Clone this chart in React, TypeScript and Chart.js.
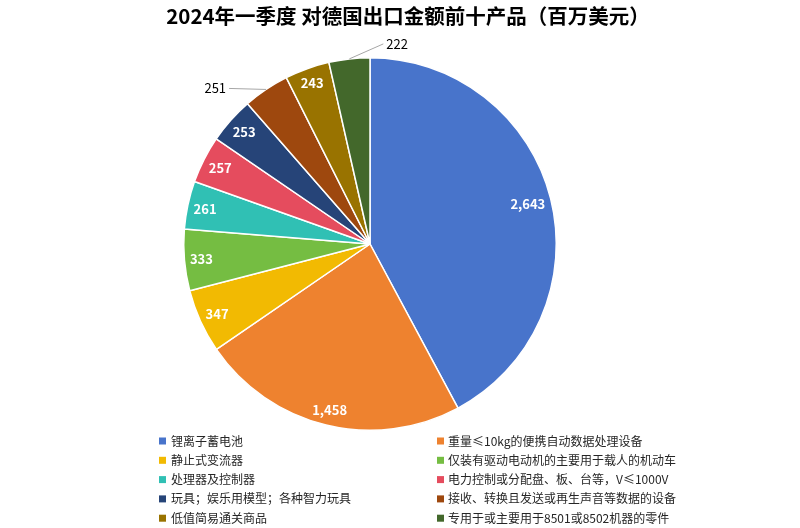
import React, { useEffect, useRef } from "react";
import { Chart, registerables } from "chart.js";

Chart.register(...registerables);

const titleText = "2024年一季度 对德国出口金额前十产品（百万美元）";

const categories = [
  "锂离子蓄电池",
  "重量≤10kg的便携自动数据处理设备",
  "静止式变流器",
  "仅装有驱动电动机的主要用于载人的机动车",
  "处理器及控制器",
  "电力控制或分配盘、板、台等，V≤1000V",
  "玩具；娱乐用模型；各种智力玩具",
  "接收、转换且发送或再生声音等数据的设备",
  "低值简易通关商品",
  "专用于或主要用于8501或8502机器的零件",
];

const values = [2643, 1458, 347, 333, 261, 257, 253, 251, 243, 222];

const colors = [
  "#4874CB",
  "#EE822F",
  "#F2BA02",
  "#75BD42",
  "#30C0B4",
  "#E54C5E",
  "#264478",
  "#9E480E",
  "#997300",
  "#43682B",
];

// labels drawn outside the pie, with leader line offsets (style config)
const outsideLeaders: Record<number, [number, number]> = { 7: [-37, -1], 9: [34, -15] };

const FONT = '"Noto Sans CJK SC", "Noto Sans", sans-serif';

const decorPlugin = {
  id: "decor",
  afterDatasetsDraw(chart: any) {
    const ctx = chart.ctx as CanvasRenderingContext2D;
    const meta = chart.getDatasetMeta(0);
    ctx.save();
    meta.data.forEach((arc: any, i: number) => {
      const { x, y, startAngle, endAngle, outerRadius } = arc.getProps(
        ["x", "y", "startAngle", "endAngle", "outerRadius"],
        true
      );
      const mid = (startAngle + endAngle) / 2;
      const cos = Math.cos(mid);
      const sin = Math.sin(mid);
      const txt = values[i].toLocaleString("en-US");
      const leader = outsideLeaders[i];
      if (leader) {
        const px = x + outerRadius * cos;
        const py = y + outerRadius * sin;
        const ex = px + leader[0];
        const ey = py + leader[1];
        ctx.strokeStyle = "#A6A6A6";
        ctx.lineWidth = 1;
        ctx.beginPath();
        ctx.moveTo(px, py);
        ctx.lineTo(ex, ey);
        ctx.stroke();
        ctx.font = `13px ${FONT}`;
        ctx.fillStyle = "#000000";
        ctx.textBaseline = "middle";
        if (leader[0] < 0) {
          ctx.textAlign = "right";
          ctx.fillText(txt, ex - 3, ey);
        } else {
          ctx.textAlign = "left";
          ctx.fillText(txt, ex + 3, ey);
        }
      } else {
        ctx.font = `bold 13px ${FONT}`;
        const w = ctx.measureText(txt).width;
        const h = 13;
        const ext = (Math.abs(cos) * w) / 2 + (Math.abs(sin) * h) / 2;
        const rr = outerRadius - 5 - ext;
        ctx.fillStyle = "#FFFFFF";
        ctx.textAlign = "center";
        ctx.textBaseline = "middle";
        ctx.fillText(txt, x + rr * cos, y + rr * sin);
      }
    });
    ctx.restore();
  },
  afterDraw(chart: any) {
    const ctx = chart.ctx as CanvasRenderingContext2D;
    ctx.save();
    // title
    ctx.font = `bold 20.5px ${FONT}`;
    ctx.fillStyle = "#000000";
    ctx.textAlign = "center";
    ctx.textBaseline = "middle";
    ctx.fillText(titleText, 408, 16);
    // legend
    ctx.font = `12px ${FONT}`;
    ctx.textAlign = "left";
    categories.forEach((c, i) => {
      const col = i % 2;
      const row = Math.floor(i / 2);
      const yy = 441 + row * 19.3;
      const sx = col === 0 ? 159 : 437;
      const tx = col === 0 ? 171 : 448;
      ctx.fillStyle = colors[i];
      ctx.fillRect(sx, yy - 3.5, 7, 7);
      ctx.fillStyle = "#262626";
      ctx.fillText(c, tx, yy);
    });
    ctx.restore();
  },
};

export default function App() {
  const ref = useRef<HTMLCanvasElement | null>(null);
  useEffect(() => {
    if (!ref.current) return;
    const chart = new Chart(ref.current, {
      type: "pie",
      data: {
        labels: categories,
        datasets: [
          {
            data: values,
            backgroundColor: colors,
            borderColor: "#FFFFFF",
            borderWidth: 1.5,
          },
        ],
      },
      options: {
        responsive: false,
        animation: false,
        layout: { padding: { top: 57, bottom: 97, left: 183, right: 243 } },
        plugins: {
          legend: { display: false },
          title: { display: false },
          tooltip: { enabled: false },
        },
      },
      plugins: [decorPlugin],
    });
    return () => chart.destroy();
  }, []);
  return (
    <div style={{ position: "absolute", left: 0, top: 0, width: 800, height: 528, background: "#fff" }}>
      <canvas ref={ref} width={800} height={528} />
    </div>
  );
}
